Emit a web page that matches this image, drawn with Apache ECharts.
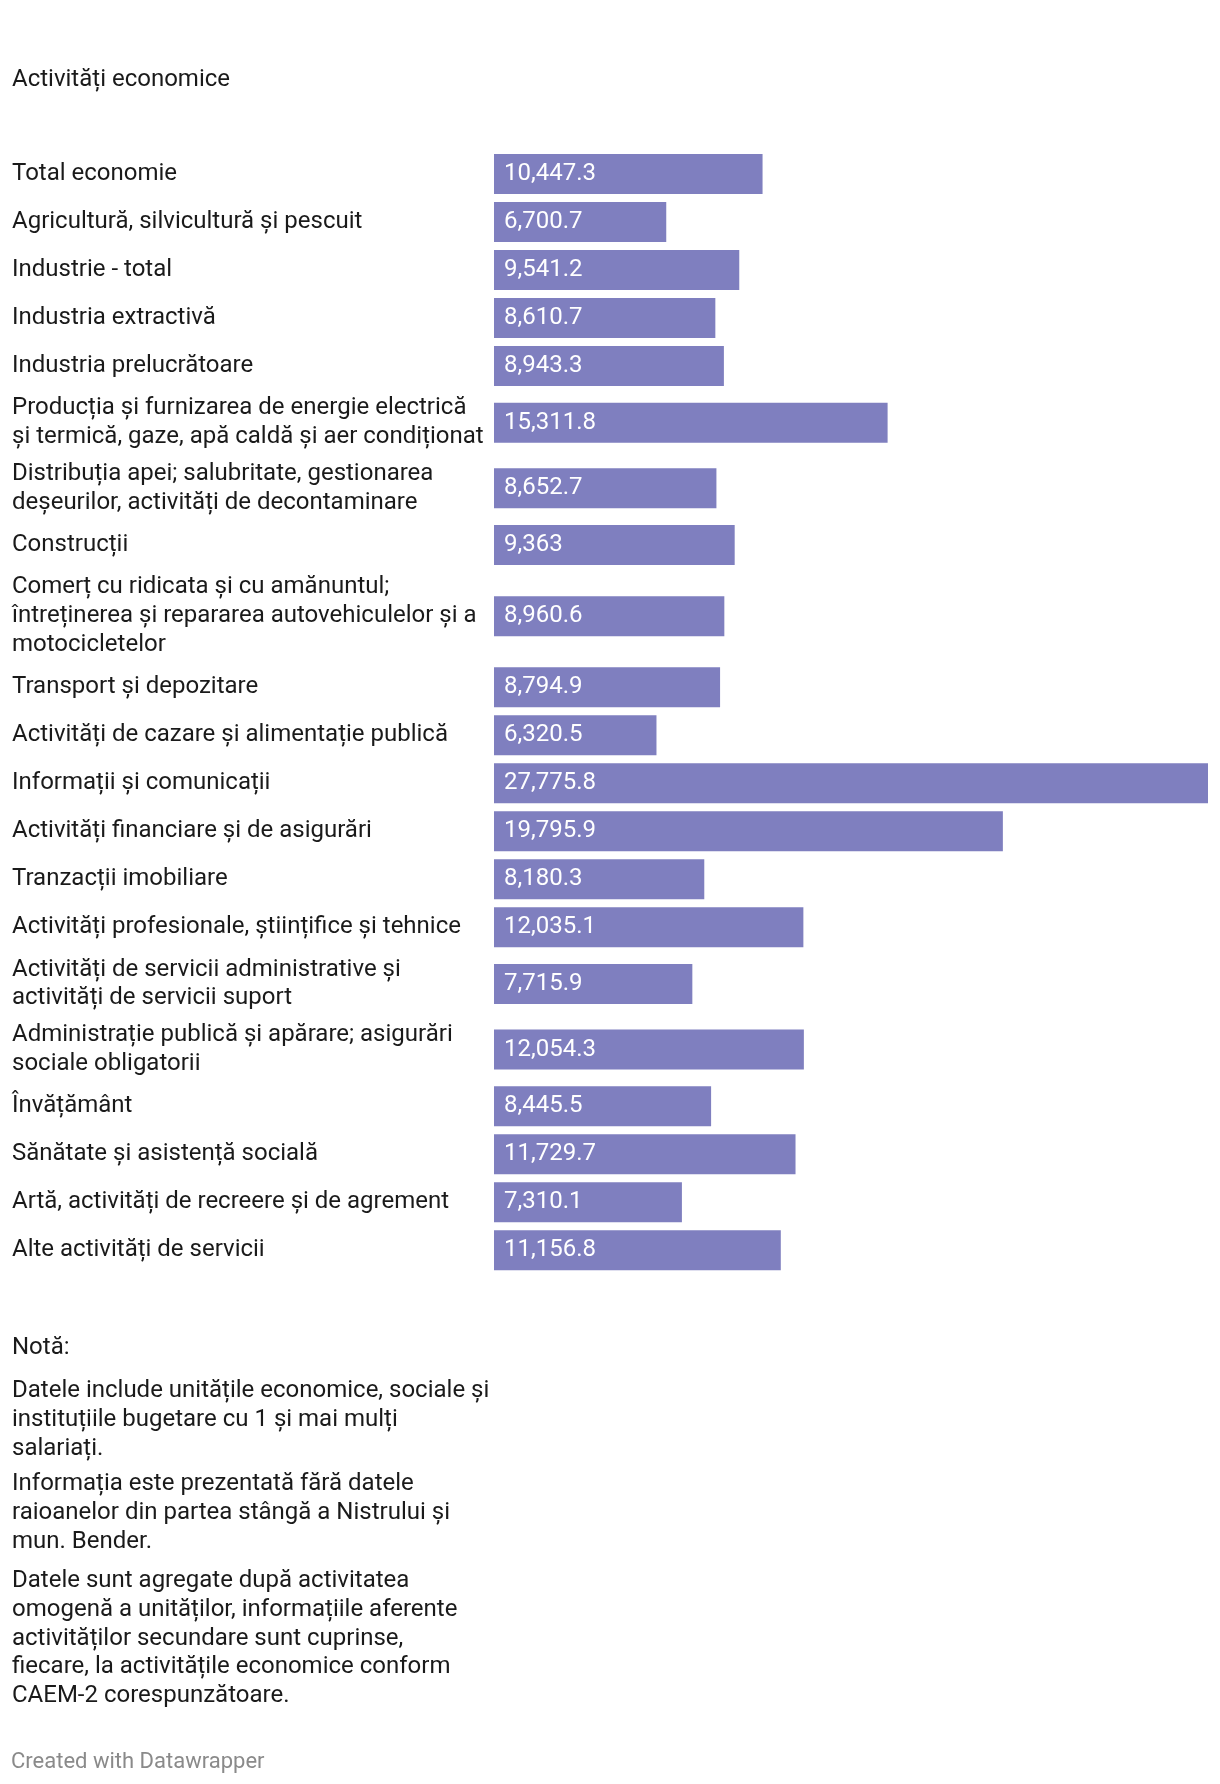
<!DOCTYPE html>
<html><head><meta charset="utf-8">
<script src="https://cdn.jsdelivr.net/npm/echarts@6/dist/echarts.min.js"></script>
<style>html,body{margin:0;padding:0;background:#fff}#c{width:1220px;height:1784px}</style>
</head><body><div id="c"></div>
<script>
const title = 'Activități economice';
const categories = [
  'Total economie',
  'Agricultură, silvicultură și pescuit',
  'Industrie - total',
  'Industria extractivă',
  'Industria prelucrătoare',
  'Producția și furnizarea de energie electrică\nși termică, gaze, apă caldă și aer condiționat',
  'Distribuția apei; salubritate, gestionarea\ndeșeurilor, activități de decontaminare',
  'Construcții',
  'Comerț cu ridicata și cu amănuntul;\nîntreținerea și repararea autovehiculelor și a\nmotocicletelor',
  'Transport și depozitare',
  'Activități de cazare și alimentație publică',
  'Informații și comunicații',
  'Activități financiare și de asigurări',
  'Tranzacții imobiliare',
  'Activități profesionale, științifice și tehnice',
  'Activități de servicii administrative și\nactivități de servicii suport',
  'Administrație publică și apărare; asigurări\nsociale obligatorii',
  'Învățământ',
  'Sănătate și asistență socială',
  'Artă, activități de recreere și de agrement',
  'Alte activități de servicii'
];
const values = [10447.3, 6700.7, 9541.2, 8610.7, 8943.3, 15311.8, 8652.7, 9363, 8960.6, 8794.9, 6320.5, 27775.8, 19795.9, 8180.3, 12035.1, 7715.9, 12054.3, 8445.5, 11729.7, 7310.1, 11156.8];
const notesTitle = 'Notă:';
const notes = [
  'Datele include unitățile economice, sociale și\ninstituțiile bugetare cu 1 și mai mulți\nsalariați.',
  'Informația este prezentată fără datele\nraioanelor din partea stângă a Nistrului și\nmun. Bender.',
  'Datele sunt agregate după activitatea\nomogenă a unităților, informațiile aferente\nactivităților secundare sunt cuprinse,\nfiecare, la activitățile economice conform\nCAEM-2 corespunzătoare.'
];
const credit = 'Created with Datawrapper';

const FONT = 'Roboto';
const FS = 24, LH = 28.75, TXT = '#1a1a1a', BAR = '#7f7fbf';
const gLeft = 494, gRight = 12, firstTop = 150, barH = 40, gap = 8, textX = 12;
const maxV = Math.max(...values);
const fmt = v => v.toLocaleString('en-US', {maximumFractionDigits: 1});

const grids = [], xAxes = [], yAxes = [], series = [];
let rowTop = firstTop;
categories.forEach((c, i) => {
  const lines = c.split('\n').length;
  const h = Math.max(barH, lines * LH) + gap;
  const center = rowTop + h / 2;
  grids.push({left: gLeft, right: gRight, top: center - barH / 2, height: barH});
  xAxes.push({type: 'value', gridIndex: i, min: 0, max: maxV, show: false});
  yAxes.push({type: 'category', gridIndex: i, data: [c],
    axisLine: {show: false}, axisTick: {show: false}, splitLine: {show: false},
    axisLabel: {align: 'left', margin: gLeft - textX, fontFamily: FONT, fontSize: FS, lineHeight: LH, color: TXT,
      padding: [4, 0, 0, 0]}});
  series.push({type: 'bar', xAxisIndex: i, yAxisIndex: i, data: [values[i]], barWidth: barH,
    itemStyle: {color: BAR}, silent: true,
    label: {show: true, position: 'insideLeft', distance: 10, color: '#ffffff', fontFamily: FONT, fontSize: FS,
      padding: [4, 0, 0, 0], formatter: p => fmt(p.value)}});
  rowTop += h;
});

const graphic = [
  {type: 'text', left: textX, top: 80 - LH / 2, style: {text: title, font: FS + 'px ' + FONT, fill: TXT, lineHeight: LH}},
  {type: 'text', left: textX, top: 1348 - LH / 2, style: {text: notesTitle, font: FS + 'px ' + FONT, fill: TXT, lineHeight: LH}}
];
const noteTops = [1391, 1484, 1581];
notes.forEach((n, i) => graphic.push({type: 'text', left: textX, top: noteTops[i] - LH / 2,
  style: {text: n, font: FS + 'px ' + FONT, fill: TXT, lineHeight: LH}}));
graphic.push({type: 'text', left: 11, top: 1762 - LH / 2, style: {text: credit, font: '22px ' + FONT, fill: '#8a8a8a', lineHeight: LH}});

const chart = echarts.init(document.getElementById('c'), null, {renderer: 'canvas'});
chart.setOption({animation: false, backgroundColor: '#ffffff', grid: grids, xAxis: xAxes, yAxis: yAxes, series, graphic});
</script></body></html>
